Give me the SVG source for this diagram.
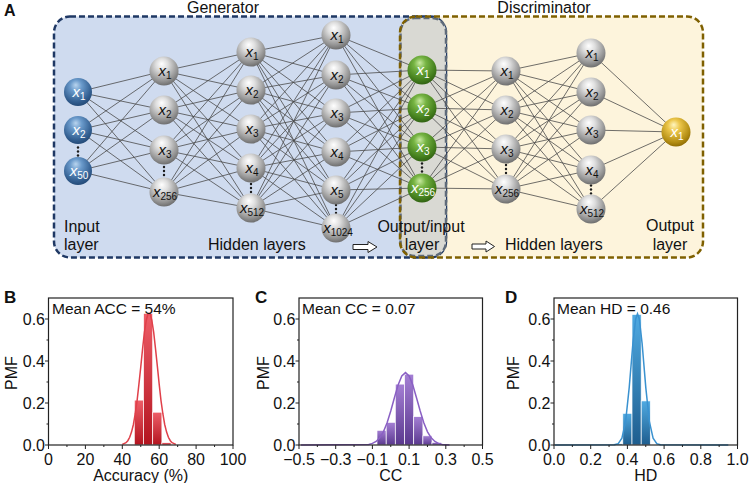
<svg xmlns="http://www.w3.org/2000/svg" width="750" height="483" viewBox="0 0 750 483">
<defs>
<radialGradient id="gGray" cx="0.45" cy="0.35" r="0.7" fx="0.42" fy="0.25">
<stop offset="0" stop-color="#ffffff"/><stop offset="0.3" stop-color="#dedede"/><stop offset="0.75" stop-color="#939393"/><stop offset="1" stop-color="#636363"/>
</radialGradient>
<radialGradient id="gBlue" cx="0.45" cy="0.35" r="0.7" fx="0.42" fy="0.25">
<stop offset="0" stop-color="#b8d4ee"/><stop offset="0.3" stop-color="#6a9acb"/><stop offset="0.75" stop-color="#335f91"/><stop offset="1" stop-color="#1f4470"/>
</radialGradient>
<radialGradient id="gGreen" cx="0.45" cy="0.35" r="0.7" fx="0.42" fy="0.25">
<stop offset="0" stop-color="#c8eaa0"/><stop offset="0.3" stop-color="#76b443"/><stop offset="0.75" stop-color="#447f1d"/><stop offset="1" stop-color="#2c5a10"/>
</radialGradient>
<radialGradient id="gGold" cx="0.45" cy="0.35" r="0.7" fx="0.42" fy="0.25">
<stop offset="0" stop-color="#fff6c0"/><stop offset="0.3" stop-color="#ecc64a"/><stop offset="0.75" stop-color="#b48e14"/><stop offset="1" stop-color="#866400"/>
</radialGradient>
<linearGradient id="barR" x1="0" y1="0" x2="0" y2="1"><stop offset="0" stop-color="#ee5e68"/><stop offset="1" stop-color="#b3141f"/></linearGradient>
<linearGradient id="barP" x1="0" y1="0" x2="0" y2="1"><stop offset="0" stop-color="#a47fd4"/><stop offset="1" stop-color="#5a388e"/></linearGradient>
<linearGradient id="barB" x1="0" y1="0" x2="0" y2="1"><stop offset="0" stop-color="#4faae2"/><stop offset="1" stop-color="#1e5d8e"/></linearGradient>
</defs>
<style>
.t{font-family:"Liberation Sans",Arial,sans-serif;fill:#111}
.lbl{font-size:16px}
.hd{font-size:16px;font-weight:bold}
.nl{font-family:"Liberation Sans",Arial,sans-serif;font-size:15px;font-style:italic;text-anchor:middle}
.nl tspan{font-style:normal;font-size:10px}
.w{fill:#fff}
.k{fill:#111}
.conn{stroke:#4a4a4a;stroke-width:0.8;fill:none}
.ng{fill:url(#gGray)}
.nb{fill:url(#gBlue)}
.nG{fill:url(#gGreen)}
.ny{fill:url(#gGold)}
.dot{fill:#1a1a1a}
.frame{fill:none;stroke:#222;stroke-width:1.2}
.tick{stroke:#222;stroke-width:1;fill:none}
.tl{font-size:16px}
.mid{text-anchor:middle}
.end{text-anchor:end}
.bar{stroke:#fff;stroke-width:0.7}
</style>
<rect width="750" height="483" fill="#fff"/>
<g id="boxes">
<rect x="54" y="16.5" width="392" height="241" rx="16" fill="#cfdbef"/>
<rect x="400" y="16.5" width="303" height="241" rx="16" fill="#fdf4dc"/>
<rect x="54" y="16.5" width="392" height="241" rx="16" fill="none" stroke="#1f3864" stroke-width="2.5" stroke-dasharray="6 3"/>
<rect x="400.5" y="18" width="45.5" height="238" rx="14" fill="#d9d9d3" stroke="#5f6b7a" stroke-width="2.5" stroke-dasharray="6 3"/>
<rect x="400" y="16.5" width="303" height="241" rx="16" fill="none" stroke="#7f6000" stroke-width="2.5" stroke-dasharray="6 3"/>
</g>
<g id="connectors" class="conn">
<path d="M78 92L164 71M78 92L164 110M78 92L164 150M78 92L164 192M78 130L164 71M78 130L164 110M78 130L164 150M78 130L164 192M78 171L164 71M78 171L164 110M78 171L164 150M78 171L164 192"/>
<path d="M164 71L251 52M164 71L251 90M164 71L251 129M164 71L251 168M164 71L251 208M164 110L251 52M164 110L251 90M164 110L251 129M164 110L251 168M164 110L251 208M164 150L251 52M164 150L251 90M164 150L251 129M164 150L251 168M164 150L251 208M164 192L251 52M164 192L251 90M164 192L251 129M164 192L251 168M164 192L251 208"/>
<path d="M251 52L336 35M251 52L336 75M251 52L336 113M251 52L336 152M251 52L336 190M251 52L336 228M251 90L336 35M251 90L336 75M251 90L336 113M251 90L336 152M251 90L336 190M251 90L336 228M251 129L336 35M251 129L336 75M251 129L336 113M251 129L336 152M251 129L336 190M251 129L336 228M251 168L336 35M251 168L336 75M251 168L336 113M251 168L336 152M251 168L336 190M251 168L336 228M251 208L336 35M251 208L336 75M251 208L336 113M251 208L336 152M251 208L336 190M251 208L336 228"/>
<path d="M336 35L422 70M336 35L422 108M336 35L422 147M336 35L422 188M336 75L422 70M336 75L422 108M336 75L422 147M336 75L422 188M336 113L422 70M336 113L422 108M336 113L422 147M336 113L422 188M336 152L422 70M336 152L422 108M336 152L422 147M336 152L422 188M336 190L422 70M336 190L422 108M336 190L422 147M336 190L422 188M336 228L422 70M336 228L422 108M336 228L422 147M336 228L422 188"/>
<path d="M422 70L506 71M422 70L506 110M422 70L506 149M422 70L506 189M422 108L506 71M422 108L506 110M422 108L506 149M422 108L506 189M422 147L506 71M422 147L506 110M422 147L506 149M422 147L506 189M422 188L506 71M422 188L506 110M422 188L506 149M422 188L506 189"/>
<path d="M506 71L591 53M506 71L591 92M506 71L591 130M506 71L591 170M506 71L591 209M506 110L591 53M506 110L591 92M506 110L591 130M506 110L591 170M506 110L591 209M506 149L591 53M506 149L591 92M506 149L591 130M506 149L591 170M506 149L591 209M506 189L591 53M506 189L591 92M506 189L591 130M506 189L591 170M506 189L591 209"/>
<path d="M591 53L676 132M591 92L676 132M591 130L676 132M591 170L676 132M591 209L676 132"/>
</g>
<g id="dots" class="dot">
<circle cx="78" cy="147.5" r="1.2"/><circle cx="78" cy="151.5" r="1.2"/><circle cx="78" cy="155.5" r="1.2"/>
<circle cx="164" cy="167" r="1.2"/><circle cx="164" cy="171" r="1.2"/><circle cx="164" cy="175" r="1.2"/>
<circle cx="251" cy="184" r="1.2"/><circle cx="251" cy="188" r="1.2"/><circle cx="251" cy="192" r="1.2"/>
<circle cx="336" cy="205" r="1.2"/><circle cx="336" cy="209" r="1.2"/><circle cx="336" cy="213" r="1.2"/>
<circle cx="422" cy="163.5" r="1.2"/><circle cx="422" cy="167.5" r="1.2"/><circle cx="422" cy="171.5" r="1.2"/>
<circle cx="506" cy="165" r="1.2"/><circle cx="506" cy="169" r="1.2"/><circle cx="506" cy="173" r="1.2"/>
<circle cx="591" cy="185.5" r="1.2"/><circle cx="591" cy="189.5" r="1.2"/><circle cx="591" cy="193.5" r="1.2"/>
</g>
<g id="input-layer">
<g id="in-1"><circle class="nb" cx="78" cy="92" r="14"/><text class="nl w" x="79" y="96.5">x<tspan dy="3.5">1</tspan></text></g>
<g id="in-2"><circle class="nb" cx="78" cy="130" r="14"/><text class="nl w" x="79" y="134.5">x<tspan dy="3.5">2</tspan></text></g>
<g id="in-50"><circle class="nb" cx="78" cy="171" r="14"/><text class="nl w" x="79" y="175.5">x<tspan dy="3.5">50</tspan></text></g>
</g>
<g id="gen-hidden-1">
<g id="g1-1"><circle class="ng" cx="164" cy="71" r="14.5"/><text class="nl k" x="165" y="75.5">x<tspan dy="3.5">1</tspan></text></g>
<g id="g1-2"><circle class="ng" cx="164" cy="110" r="14.5"/><text class="nl k" x="165" y="114.5">x<tspan dy="3.5">2</tspan></text></g>
<g id="g1-3"><circle class="ng" cx="164" cy="150" r="14.5"/><text class="nl k" x="165" y="154.5">x<tspan dy="3.5">3</tspan></text></g>
<g id="g1-256"><circle class="ng" cx="164" cy="192" r="14.5"/><text class="nl k" x="165" y="196.5">x<tspan dy="3.5">256</tspan></text></g>
</g>
<g id="gen-hidden-2">
<g id="g2-1"><circle class="ng" cx="251" cy="52" r="14.5"/><text class="nl k" x="252" y="56.5">x<tspan dy="3.5">1</tspan></text></g>
<g id="g2-2"><circle class="ng" cx="251" cy="90" r="14.5"/><text class="nl k" x="252" y="94.5">x<tspan dy="3.5">2</tspan></text></g>
<g id="g2-3"><circle class="ng" cx="251" cy="129" r="14.5"/><text class="nl k" x="252" y="133.5">x<tspan dy="3.5">3</tspan></text></g>
<g id="g2-4"><circle class="ng" cx="251" cy="168" r="14.5"/><text class="nl k" x="252" y="172.5">x<tspan dy="3.5">4</tspan></text></g>
<g id="g2-512"><circle class="ng" cx="251" cy="208" r="14.5"/><text class="nl k" x="252" y="212.5">x<tspan dy="3.5">512</tspan></text></g>
</g>
<g id="gen-hidden-3">
<g id="g3-1"><circle class="ng" cx="336" cy="35" r="14.5"/><text class="nl k" x="337" y="39.5">x<tspan dy="3.5">1</tspan></text></g>
<g id="g3-2"><circle class="ng" cx="336" cy="75" r="14.5"/><text class="nl k" x="337" y="79.5">x<tspan dy="3.5">2</tspan></text></g>
<g id="g3-3"><circle class="ng" cx="336" cy="113" r="14.5"/><text class="nl k" x="337" y="117.5">x<tspan dy="3.5">3</tspan></text></g>
<g id="g3-4"><circle class="ng" cx="336" cy="152" r="14.5"/><text class="nl k" x="337" y="156.5">x<tspan dy="3.5">4</tspan></text></g>
<g id="g3-5"><circle class="ng" cx="336" cy="190" r="14.5"/><text class="nl k" x="337" y="194.5">x<tspan dy="3.5">5</tspan></text></g>
<g id="g3-1024"><circle class="ng" cx="336" cy="228" r="14.5"/><text class="nl k" x="338" y="232.5">x<tspan dy="3.5">1024</tspan></text></g>
</g>
<g id="output-input-layer">
<g id="oi-1"><circle class="nG" cx="422" cy="70" r="14.5"/><text class="nl w" x="423" y="74.5">x<tspan dy="3.5">1</tspan></text></g>
<g id="oi-2"><circle class="nG" cx="422" cy="108" r="14.5"/><text class="nl w" x="423" y="112.5">x<tspan dy="3.5">2</tspan></text></g>
<g id="oi-3"><circle class="nG" cx="422" cy="147" r="14.5"/><text class="nl w" x="423" y="151.5">x<tspan dy="3.5">3</tspan></text></g>
<g id="oi-256"><circle class="nG" cx="422" cy="188" r="14.5"/><text class="nl w" x="423" y="192.5">x<tspan dy="3.5">256</tspan></text></g>
</g>
<g id="disc-hidden-1">
<g id="d1-1"><circle class="ng" cx="506" cy="71" r="14.5"/><text class="nl k" x="507" y="75.5">x<tspan dy="3.5">1</tspan></text></g>
<g id="d1-2"><circle class="ng" cx="506" cy="110" r="14.5"/><text class="nl k" x="507" y="114.5">x<tspan dy="3.5">2</tspan></text></g>
<g id="d1-3"><circle class="ng" cx="506" cy="149" r="14.5"/><text class="nl k" x="507" y="153.5">x<tspan dy="3.5">3</tspan></text></g>
<g id="d1-256"><circle class="ng" cx="506" cy="189" r="14.5"/><text class="nl k" x="507" y="193.5">x<tspan dy="3.5">256</tspan></text></g>
</g>
<g id="disc-hidden-2">
<g id="d2-1"><circle class="ng" cx="591" cy="53" r="14.5"/><text class="nl k" x="592" y="57.5">x<tspan dy="3.5">1</tspan></text></g>
<g id="d2-2"><circle class="ng" cx="591" cy="92" r="14.5"/><text class="nl k" x="592" y="96.5">x<tspan dy="3.5">2</tspan></text></g>
<g id="d2-3"><circle class="ng" cx="591" cy="130" r="14.5"/><text class="nl k" x="592" y="134.5">x<tspan dy="3.5">3</tspan></text></g>
<g id="d2-4"><circle class="ng" cx="591" cy="170" r="14.5"/><text class="nl k" x="592" y="174.5">x<tspan dy="3.5">4</tspan></text></g>
<g id="d2-512"><circle class="ng" cx="591" cy="209" r="14.5"/><text class="nl k" x="592" y="213.5">x<tspan dy="3.5">512</tspan></text></g>
</g>
<g id="output-layer">
<g id="out-1"><circle class="ny" cx="676" cy="132" r="14.5"/><text class="nl w" x="677" y="136.5">x<tspan dy="3.5">1</tspan></text></g>
</g>
<g id="labels-a" class="t">
<text class="hd" x="4" y="16">A</text>
<text class="lbl mid" x="223" y="13">Generator</text>
<text class="lbl mid" x="544" y="13">Discriminator</text>
<text class="lbl" x="64" y="232">Input</text>
<text class="lbl" x="64" y="250">layer</text>
<text class="lbl" x="208" y="250">Hidden layers</text>
<text class="lbl mid" x="421" y="232">Output/input</text>
<text class="lbl mid" x="422" y="250">layer</text>
<text class="lbl" x="505" y="250">Hidden layers</text>
<text class="lbl mid" x="670" y="231">Output</text>
<text class="lbl mid" x="670" y="250">layer</text>
</g>
<g id="arrows" fill="#fff" stroke="#222" stroke-width="1">
<polygon points="353,244.5 368,244.5 368,241.5 377,247 368,252.5 368,249.5 353,249.5"/>
<polygon points="472,244 486,244 486,241 494.5,246.5 486,252 486,249 472,249"/>
</g>
<g id="panel-b">
<rect x="134.3" y="400.1" width="9.2" height="44.9" class="bar" fill="url(#barR)"/>
<rect x="143.5" y="313.3" width="9.2" height="131.7" class="bar" fill="url(#barR)"/>
<rect x="152.7" y="412.2" width="9.2" height="32.8" class="bar" fill="url(#barR)"/>
<rect x="161.9" y="442.7" width="9.2" height="2.3" class="bar" fill="url(#barR)"/>
<polyline fill="none" stroke="#e0404a" stroke-width="1.5" points="122.3,444.4 126,442.7 127.8,440.7 129.7,437.3 131.5,432.1 133.4,424.5 135.2,414 137.1,400.6 138.9,384.4 140.8,366.6 142.6,348.6 144.4,332.4 146.3,320.2 148.1,313.5 150,313.5 151.8,320.2 153.7,332.4 155.5,348.6 157.4,366.6 159.2,384.4 161,400.6 162.9,414 164.7,424.5 166.6,432.1 168.4,437.3 170.3,440.7 172.1,442.7 175.8,444.4"/>
<rect x="48.5" y="298" width="184.5" height="147" class="frame"/>
<path class="tick" d="M45 445H48.5M45 403H48.5M45 361H48.5M45 319H48.5M46.5 424H48.5M46.5 382H48.5M46.5 340H48.5M48.5 445V449M85.4 445V449M122.3 445V449M159.2 445V449M196.1 445V449M233 445V449M66.95 445V447M103.85 445V447M140.75 445V447M177.65 445V447M214.55 445V447"/>
<g class="t tl">
<text class="end" x="45" y="450.5">0.0</text><text class="end" x="45" y="408.5">0.2</text><text class="end" x="45" y="366.5">0.4</text><text class="end" x="45" y="324.5">0.6</text>
<text class="mid" x="48.5" y="465">0</text><text class="mid" x="85.4" y="465">20</text><text class="mid" x="122.3" y="465">40</text><text class="mid" x="159.2" y="465">60</text><text class="mid" x="196.1" y="465">80</text><text class="mid" x="233" y="465">100</text>
<text class="mid" x="140.75" y="480.5">Accuracy (%)</text>
<text class="mid" transform="translate(17,373) rotate(-90)">PMF</text>
<text x="52" y="314" style="font-size:15.5px">Mean ACC = 54%</text>
</g>
<text class="t hd" x="4" y="302.5" style="font-size:17px">B</text>
</g>
<g id="panel-c">
<rect x="377" y="430.3" width="9.2" height="14.7" class="bar" fill="url(#barP)"/>
<rect x="386.2" y="422.3" width="9.1" height="22.7" class="bar" fill="url(#barP)"/>
<rect x="395.3" y="384.1" width="9.2" height="60.9" class="bar" fill="url(#barP)"/>
<rect x="404.5" y="374.2" width="9.2" height="70.8" class="bar" fill="url(#barP)"/>
<rect x="413.7" y="416.6" width="9.2" height="28.4" class="bar" fill="url(#barP)"/>
<rect x="422.9" y="435.8" width="9.1" height="9.2" class="bar" fill="url(#barP)"/>
<rect x="432" y="442.3" width="9.2" height="2.7" class="bar" fill="url(#barP)"/>
<polyline fill="none" stroke="#8a60c4" stroke-width="1.5" points="301,445 368.7,444.4 372.4,443.4 376.1,441.5 379.7,437.9 383.4,431.8 387.1,422.8 390.75,411 394.4,397.7 398.1,385 401.8,375.9 405.5,372.6 409.1,375.9 412.8,385 416.5,397.7 420.2,411 423.8,422.8 427.5,431.8 431.2,437.9 434.9,441.5 438.5,443.4 442.2,444.4 449.5,445"/>
<rect x="299" y="298" width="183.5" height="147" class="frame"/>
<path class="tick" d="M295.5 445H299M295.5 403H299M295.5 361H299M295.5 319H299M297 424H299M297 382H299M297 340H299M299 445V449M335.7 445V449M372.4 445V449M409.1 445V449M445.8 445V449M482.5 445V449M317.35 445V447M354.05 445V447M390.75 445V447M427.45 445V447M464.15 445V447"/>
<g class="t tl">
<text class="end" x="295.5" y="450.5">0.0</text><text class="end" x="295.5" y="408.5">0.2</text><text class="end" x="295.5" y="366.5">0.4</text><text class="end" x="295.5" y="324.5">0.6</text>
<text class="mid" x="299" y="465">−0.5</text><text class="mid" x="335.7" y="465">−0.3</text><text class="mid" x="372.4" y="465">−0.1</text><text class="mid" x="409.1" y="465">0.1</text><text class="mid" x="445.8" y="465">0.3</text><text class="mid" x="482.5" y="465">0.5</text>
<text class="mid" x="390.75" y="480.5">CC</text>
<text class="mid" transform="translate(268.5,373) rotate(-90)">PMF</text>
<text x="302" y="314" style="font-size:15.5px">Mean CC = 0.07</text>
</g>
<text class="t hd" x="255" y="302.5" style="font-size:17px">C</text>
</g>
<g id="panel-d">
<rect x="613.6" y="443.7" width="9.2" height="1.3" class="bar" fill="url(#barB)"/>
<rect x="622.8" y="413.3" width="9.2" height="31.7" class="bar" fill="url(#barB)"/>
<rect x="632" y="314.4" width="9.2" height="130.6" class="bar" fill="url(#barB)"/>
<rect x="641.2" y="400.9" width="9.1" height="44.1" class="bar" fill="url(#barB)"/>
<polyline fill="none" stroke="#3a92d0" stroke-width="1.5" points="555,445 614.6,444.8 618.2,443.6 621.9,438.1 625.6,421.6 629.2,387.6 632.9,343.3 635.7,319 637.5,313.75 639.3,319 642.1,343.3 645.8,387.6 649.4,421.6 653.1,438.1 656.8,443.6 660.4,444.8 728.3,445"/>
<rect x="554" y="298" width="183.5" height="147" class="frame"/>
<path class="tick" d="M550.5 445H554M550.5 403H554M550.5 361H554M550.5 319H554M552 424H554M552 382H554M552 340H554M554 445V449M590.7 445V449M627.4 445V449M664.1 445V449M700.8 445V449M737.5 445V449M572.35 445V447M609.05 445V447M645.75 445V447M682.45 445V447M719.15 445V447"/>
<g class="t tl">
<text class="end" x="550.5" y="450.5">0.0</text><text class="end" x="550.5" y="408.5">0.2</text><text class="end" x="550.5" y="366.5">0.4</text><text class="end" x="550.5" y="324.5">0.6</text>
<text class="mid" x="554" y="465">0.0</text><text class="mid" x="590.7" y="465">0.2</text><text class="mid" x="627.4" y="465">0.4</text><text class="mid" x="664.1" y="465">0.6</text><text class="mid" x="700.8" y="465">0.8</text><text class="mid" x="737.5" y="465">1.0</text>
<text class="mid" x="645.75" y="480.5">HD</text>
<text class="mid" transform="translate(518.5,373) rotate(-90)">PMF</text>
<text x="557" y="314" style="font-size:15.5px">Mean HD = 0.46</text>
</g>
<text class="t hd" x="505" y="302.5" style="font-size:17px">D</text>
</g>
</svg>
